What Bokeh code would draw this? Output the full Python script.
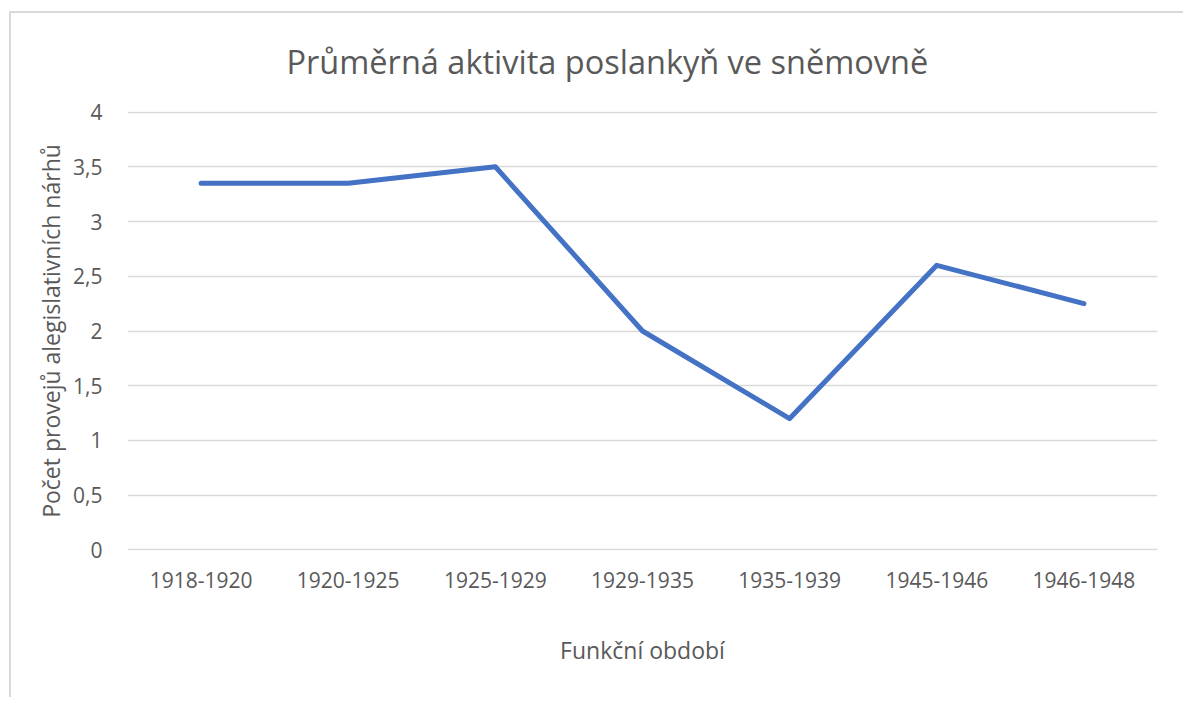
from bokeh.plotting import figure
from bokeh.models import FactorRange, Range1d, FixedTicker, CustomJSTickFormatter, Title
from bokeh.embed import file_html
from bokeh.resources import INLINE

periods = ["1918-1920", "1920-1925", "1925-1929", "1929-1935", "1935-1939", "1945-1946", "1946-1948"]
activity = [3.35, 3.35, 3.5, 2.0, 1.2, 2.6, 2.25]
y_ticks = [0, 0.5, 1, 1.5, 2, 2.5, 3, 3.5, 4]

title_text = "Průměrná aktivita poslankyň ve sněmovně"
x_label = "Funkční období"
y_label = "Počet provejů alegislativních nárhů"

FONT = "Open Sans"
TXT = "#595959"

p = figure(width=1174, height=686, output_backend="svg", toolbar_location=None,
           x_range=FactorRange(factors=periods, range_padding=0),
           y_range=Range1d(-0.005, 4.005),
           min_border_left=116, min_border_right=28, min_border_top=98, min_border_bottom=149)
p.margin = (11, 0, 0, 9)
p.styles = {"border-left": "2px solid #d9d9d9", "border-top": "2px solid #d9d9d9"}

p.title = None
t = Title(text=title_text, align="left", vertical_align="top", text_font=FONT,
          text_font_size="32.5px", text_color=TXT, text_font_style="normal",
          standoff=51, offset=159)
p.add_layout(t, "above")

p.line(x=periods, y=activity, line_color="#4472C4", line_width=5,
       line_cap="round", line_join="round")

p.outline_line_color = None
p.xgrid.grid_line_color = None
p.ygrid.grid_line_color = "#d9d9d9"
p.ygrid.grid_line_width = 1.5

p.yaxis.ticker = FixedTicker(ticks=y_ticks)
p.yaxis.formatter = CustomJSTickFormatter(code="return tick.toString().replace('.', ',');")

for ax in (p.xaxis[0], p.yaxis[0]):
    ax.axis_line_color = None
    ax.major_tick_line_color = None
    ax.minor_tick_line_color = None
    ax.major_label_text_font = FONT
    ax.major_label_text_font_size = "21px"
    ax.major_label_text_color = TXT
    ax.axis_label_text_font = FONT
    ax.axis_label_text_font_size = "23px"
    ax.axis_label_text_color = TXT
    ax.axis_label_text_font_style = "normal"

p.xaxis.axis_label = x_label
p.yaxis.axis_label = y_label
p.xaxis.major_label_standoff = 15
p.xaxis.axis_label_standoff = 43
p.yaxis.major_label_standoff = 19
p.yaxis.axis_label_standoff = 3

open("out.html", "w").write(file_html(p, INLINE))
